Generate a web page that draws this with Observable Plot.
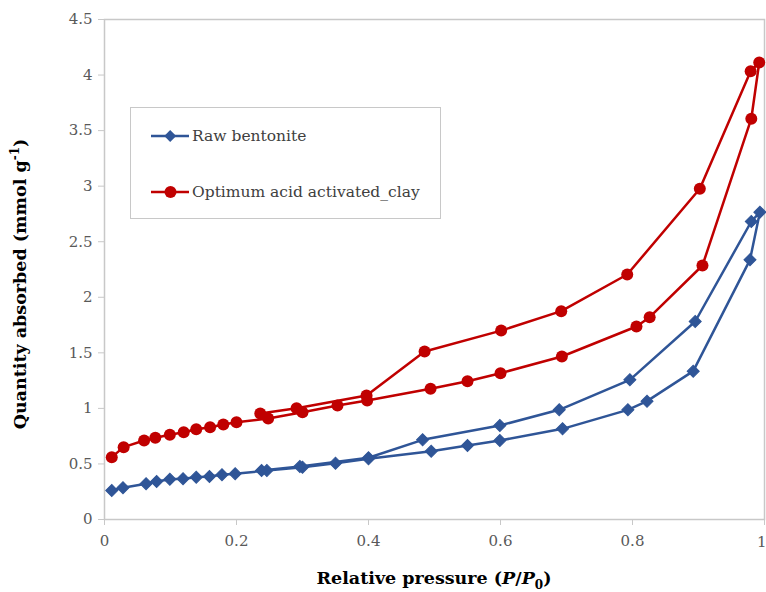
<!DOCTYPE html>
<html>
<head>
<meta charset="utf-8">
<script src="https://cdn.jsdelivr.net/npm/d3@7"></script>
<script src="https://cdn.jsdelivr.net/npm/@observablehq/plot@0.6"></script>
<style>
  body { margin: 0; background: #fff; }
  #wrap { position: relative; width: 766px; height: 592px; font-family: "DejaVu Serif", serif; }
  #ytitle { position: absolute; left: 20px; top: 284px; transform: translate(-50%, -50%) rotate(-90deg); white-space: nowrap; font-weight: bold; font-size: 17.5px; color: #000; }
  #xtitle { position: absolute; left: 434px; top: 578px; transform: translate(-50%, -50%); white-space: nowrap; font-weight: bold; font-size: 17.5px; color: #000; }
  sup, sub { font-size: 12px; line-height: 0; }
  #legend { position: absolute; left: 130px; top: 107px; width: 311px; height: 112px; border: 1.5px solid #c8c8c8; box-sizing: border-box; background: #fff; }
  .entry { position: absolute; left: 20px; display: flex; align-items: center; font-size: 15.5px; color: #404040; white-space: nowrap; }
  .entry svg { margin-right: 3px; }
</style>
</head>
<body>
<div id="wrap">
  <div id="chart"></div>
  <div id="ytitle">Quantity absorbed (mmol g<sup>-1</sup>)</div>
  <div id="xtitle">Relative pressure (<i>P</i>/<i>P</i><sub>0</sub>)</div>
  <div id="legend"></div>
</div>
<script>
// Raw bentonite: adsorption branch then desorption branch
const rawX = [0.011, 0.028, 0.063, 0.079, 0.099, 0.119, 0.139, 0.159, 0.178, 0.198, 0.246, 0.300, 0.350, 0.400, 0.495, 0.550, 0.599, 0.694, 0.793, 0.822, 0.892, 0.978, 0.993,
              0.980, 0.895, 0.796, 0.689, 0.599, 0.482, 0.400, 0.296, 0.238];
const rawY = [0.261, 0.285, 0.321, 0.342, 0.363, 0.366, 0.381, 0.387, 0.402, 0.411, 0.441, 0.471, 0.507, 0.546, 0.615, 0.666, 0.711, 0.816, 0.987, 1.065, 1.335, 2.337, 2.766,
              2.682, 1.782, 1.257, 0.987, 0.846, 0.717, 0.556, 0.477, 0.441];

// Optimum acid activated clay
const acidX = [0.011, 0.029, 0.060, 0.077, 0.099, 0.120, 0.139, 0.160, 0.180, 0.200, 0.248, 0.300, 0.353, 0.398, 0.494, 0.550, 0.600, 0.693, 0.806, 0.826, 0.906, 0.980, 0.992,
               0.979, 0.902, 0.792, 0.692, 0.601, 0.485, 0.397, 0.291, 0.236];
const acidY = [0.561, 0.651, 0.711, 0.735, 0.762, 0.786, 0.813, 0.831, 0.855, 0.876, 0.909, 0.966, 1.026, 1.071, 1.176, 1.245, 1.317, 1.467, 1.737, 1.821, 2.286, 3.607, 4.113,
               4.035, 2.977, 2.205, 1.875, 1.700, 1.512, 1.116, 1.002, 0.954];

const xTicks = [0, 0.2, 0.4, 0.6, 0.8, 1];
const yTicks = [0, 0.5, 1, 1.5, 2, 2.5, 3, 3.5, 4, 4.5];

const seriesNames = ["Raw bentonite", "Optimum acid activated_clay"];
const seriesColors = ["#2F5597", "#C00000"];

const raw = rawX.map((x, i) => ({x, y: rawY[i]}));
const acid = acidX.map((x, i) => ({x, y: acidY[i]}));

const chart = Plot.plot({
  width: 766,
  height: 592,
  marginLeft: 104,
  marginRight: 2,
  marginTop: 19,
  marginBottom: 73,
  style: { fontFamily: "'DejaVu Serif', serif", fontSize: "15px", color: "#595959", background: "transparent" },
  x: { domain: [0, 1] },
  y: { domain: [0, 4.5] },
  marks: [
    Plot.frame({ stroke: "#c8c8c8", strokeWidth: 1.5 }),
    Plot.axisX({ ticks: xTicks.slice(0, -1), tickFormat: d => String(d), tickSize: 6, tickPadding: 10, stroke: "#c8c8c8", fill: "#595959", label: null }),
    Plot.axisX({ ticks: xTicks.slice(-1), tickFormat: () => "", tickSize: 6, stroke: "#c8c8c8", label: null }),
    Plot.text(xTicks.slice(-1), { x: d => d, y: 0, dy: 17, dx: 2, lineAnchor: "top", textAnchor: "end", text: d => String(d), fill: "#595959" }),
    Plot.axisY({ ticks: yTicks, tickFormat: d => String(d), tickSize: 6, tickPadding: 6, stroke: "#c8c8c8", fill: "#595959", label: null }),
    Plot.line(raw, { x: "x", y: "y", stroke: seriesColors[0], strokeWidth: 2.5 }),
    Plot.line(acid, { x: "x", y: "y", stroke: seriesColors[1], strokeWidth: 2.5 }),
    Plot.dot(raw, { x: "x", y: "y", symbol: "square", r: 4.8, rotate: 45, fill: seriesColors[0], stroke: seriesColors[0], strokeWidth: 1 }),
    Plot.dot(acid, { x: "x", y: "y", symbol: "circle", r: 6, fill: seriesColors[1], stroke: "none" })
  ]
});
document.getElementById("chart").appendChild(chart);

// Legend
const legend = document.getElementById("legend");
const tops = [28, 84];
seriesNames.forEach((name, i) => {
  const e = document.createElement("div");
  e.className = "entry";
  e.style.top = (tops[i] - 12) + "px";
  const sym = i === 0
    ? `<rect x="15" y="-4.2" width="8.4" height="8.4" transform="rotate(45 19.2 0)" fill="${seriesColors[0]}"/>`
    : `<circle cx="19.5" cy="0" r="6" fill="${seriesColors[1]}"/>`;
  e.innerHTML = `<svg width="38" height="24" viewBox="0 -12 38 24"><line x1="0" x2="38" y1="0" y2="0" stroke="${seriesColors[i]}" stroke-width="2.5"/>${sym}</svg><span>${name}</span>`;
  legend.appendChild(e);
});
</script>
</body>
</html>
